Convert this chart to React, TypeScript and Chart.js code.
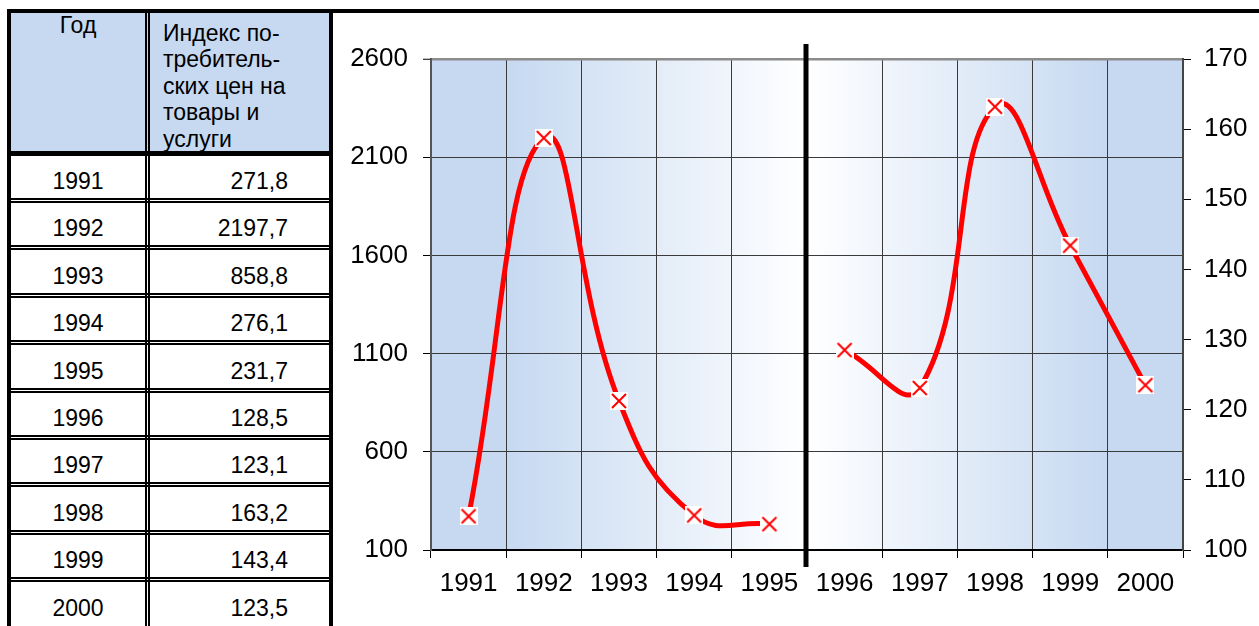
import React, { useEffect, useRef } from 'react';
import { Chart, registerables } from 'chart.js';

Chart.register(...registerables);

// ---------- data ----------
const years = ['1991', '1992', '1993', '1994', '1995', '1996', '1997', '1998', '1999', '2000'];
const indexValues = [271.8, 2197.7, 858.8, 276.1, 231.7, 128.5, 123.1, 163.2, 143.4, 123.5];
const leftSeries = [271.8, 2197.7, 858.8, 276.1, 231.7, null, null, null, null, null];
const rightSeries = [null, null, null, null, null, 128.5, 123.1, 163.2, 143.4, 123.5];
const leftTicks = [100, 600, 1100, 1600, 2100, 2600];
const rightTicks = [100, 110, 120, 130, 140, 150, 160, 170];
const headerYear = 'Год';
const headerIndexLines = ['Индекс по-', 'требитель-', 'ских цен на', 'товары и', 'услуги'];

const FONT = '"Liberation Sans", Arial, Helvetica, sans-serif';
const BLUE = '#c6d9f1';

function makeMarker(): HTMLCanvasElement {
  const c = document.createElement('canvas');
  c.width = 18;
  c.height = 18;
  const g = c.getContext('2d')!;
  g.fillStyle = '#ffffff';
  g.fillRect(0, 0, 18, 18);
  g.strokeStyle = '#ff0000';
  g.lineWidth = 2;
  g.beginPath();
  g.moveTo(2, 2);
  g.lineTo(16, 16);
  g.moveTo(16, 2);
  g.lineTo(2, 16);
  g.stroke();
  return c;
}

const bgPlugin = {
  id: 'bgGradient',
  beforeDraw(chart: any) {
    const { ctx, chartArea: a } = chart;
    const g = ctx.createLinearGradient(a.left, 0, a.right, 0);
    g.addColorStop(0, BLUE);
    g.addColorStop(0.1, BLUE);
    g.addColorStop(0.5, '#ffffff');
    g.addColorStop(0.9, BLUE);
    g.addColorStop(1, BLUE);
    ctx.save();
    ctx.fillStyle = g;
    ctx.fillRect(a.left, a.top, a.right - a.left, a.bottom - a.top);
    ctx.restore();
  },
};

const sepPlugin = {
  id: 'separator',
  afterDatasetsDraw(chart: any) {
    const { ctx, chartArea: a } = chart;
    const xs = chart.scales.x;
    const px = (xs.getPixelForValue(4) + xs.getPixelForValue(5)) / 2 - 1;
    ctx.save();
    ctx.fillStyle = '#000';
    ctx.fillRect(px - 2.5, a.top - 15, 5, a.bottom - a.top + 32);
    ctx.restore();
  },
};

function ChartBox() {
  const ref = useRef<HTMLCanvasElement | null>(null);
  useEffect(() => {
    if (!ref.current) return;
    const marker = makeMarker();
    const tickFont = { family: FONT, size: 26 };
    const lineDs = (data: (number | null)[], axis: string) => ({
      data,
      yAxisID: axis,
      borderColor: '#ff0000',
      borderWidth: 5,
      tension: 0.45,
      fill: false,
      pointStyle: marker as any,
      pointRadius: 9,
      pointBorderWidth: 0,
      spanGaps: false,
    });
    const chart = new Chart(ref.current, {
      type: 'line',
      data: {
        labels: years,
        datasets: [lineDs(leftSeries, 'y'), lineDs(rightSeries, 'y1')],
      },
      options: {
        responsive: false,
        animation: false,
        devicePixelRatio: 1,
        layout: { padding: { top: 45, left: 0, right: 0, bottom: 0 } },
        plugins: { legend: { display: false }, tooltip: { enabled: false } },
        scales: {
          x: {
            type: 'category',
            offset: true,
            grid: {
              offset: true,
              color: '#3a3a3a',
              lineWidth: 1,
              drawTicks: true,
              tickLength: 8,
              tickColor: '#000',
            },
            border: { display: true, color: '#000', width: 2 },
            ticks: { color: '#000', font: tickFont, padding: 10, maxRotation: 0, autoSkip: false },
            afterFit: (s: any) => {
              s.height = 76;
            },
          },
          y: {
            position: 'left',
            min: leftTicks[0],
            max: leftTicks[leftTicks.length - 1],
            afterBuildTicks: (s: any) => {
              s.ticks = leftTicks.map((v) => ({ value: v }));
            },
            ticks: { color: '#000', font: tickFont, padding: 15, callback: (v: any) => String(v) },
            grid: {
              color: (c: any) => (c.tick && c.tick.value === 2600 ? '#8c8c8c' : '#3a3a3a'),
              lineWidth: (c: any) => (c.tick && c.tick.value === 2600 ? 2.5 : 1),
              tickLength: 8,
              tickColor: '#000',
              tickWidth: 1,
            },
            border: { display: true, color: '#555', width: 2 },
            afterFit: (s: any) => {
              s.width = 97;
            },
          },
          y1: {
            position: 'right',
            min: rightTicks[0],
            max: rightTicks[rightTicks.length - 1],
            afterBuildTicks: (s: any) => {
              s.ticks = rightTicks.map((v) => ({ value: v }));
            },
            ticks: { color: '#000', font: tickFont, padding: 13, callback: (v: any) => String(v) },
            grid: { drawOnChartArea: false, tickLength: 8, tickColor: '#000', tickWidth: 1 },
            border: { display: true, color: '#444', width: 2 },
            afterFit: (s: any) => {
              s.width = 76;
            },
          },
        },
      } as any,
      plugins: [bgPlugin, sepPlugin],
    });
    return () => chart.destroy();
  }, []);
  return <canvas ref={ref} width={925} height={612} style={{ display: 'block' }} />;
}

const rect = (left: number, top: number, width: number, height: number, extra: React.CSSProperties = {}) => ({
  position: 'absolute' as const,
  left,
  top,
  width,
  height,
  boxSizing: 'border-box' as const,
  ...extra,
});

export default function App() {
  const rowStep = 47.4;
  const txt: React.CSSProperties = { fontFamily: FONT, fontSize: 23, lineHeight: '23px', color: '#000', whiteSpace: 'nowrap' };
  return (
    <div style={{ position: 'absolute', left: 0, top: 0, width: 1259, height: 626, overflow: 'hidden', background: '#fff' }}>
      {/* header background */}
      <div style={rect(11, 13, 318, 139, { background: BLUE })} />
      {/* header texts */}
      <div style={{ ...rect(11, 14, 134, 30), ...txt, textAlign: 'center' }}>{headerYear}</div>
      <div style={{ ...rect(163, 20, 166, 140), ...txt, lineHeight: '26.4px' }}>
        {headerIndexLines.map((l, i) => (
          <div key={i}>{l}</div>
        ))}
      </div>
      {/* rows */}
      {years.map((y, i) => (
        <React.Fragment key={y}>
          <div style={{ ...rect(11, 170 + i * rowStep, 134, 26), ...txt, textAlign: 'center' }}>{y}</div>
          <div style={{ ...rect(150, 170 + i * rowStep, 138, 26), ...txt, textAlign: 'right' }}>
            {indexValues[i].toFixed(1).replace('.', ',')}
          </div>
        </React.Fragment>
      ))}
      {/* row separators (double lines) */}
      {years.slice(0, 9).map((y, i) => (
        <div
          key={'l' + y}
          style={rect(11, 198 + i * rowStep, 318, 5, { borderTop: '2px solid #000', borderBottom: '2px solid #000' })}
        />
      ))}
      {/* column divider (double) */}
      <div style={rect(145, 13, 5, 613, { borderLeft: '2px solid #000', borderRight: '2px solid #000', background: 'transparent' })} />
      {/* header bottom */}
      <div style={rect(7, 151, 326, 5, { background: '#000' })} />
      {/* outer borders */}
      <div style={rect(7, 9, 1252, 4, { background: '#000' })} />
      <div style={rect(7, 9, 4, 617, { background: '#000' })} />
      <div style={rect(329, 9, 4, 617, { background: '#000' })} />
      {/* chart */}
      <div style={{ position: 'absolute', left: 334, top: 14 }}>
        <ChartBox />
      </div>
    </div>
  );
}
